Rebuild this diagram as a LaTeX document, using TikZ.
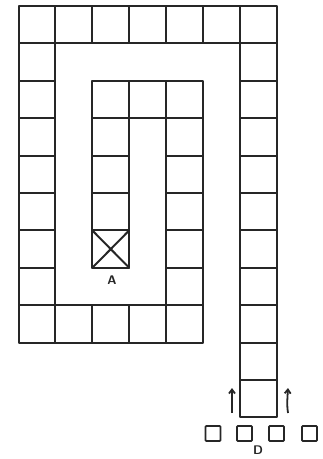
\documentclass[tikz,border=0pt]{standalone}
\usetikzlibrary{arrows.meta}
\begin{document}
\begin{tikzpicture}[x=1pt,y=-1pt,
  cellline/.style={line width=2pt,line cap=round,line join=round,black!85},
  tiny/.style={draw=black!85,line width=1.8pt,minimum size=15pt,inner sep=0pt,rounded corners=0.8pt},
  uparrow/.style={line width=1.8pt,black!85,-{Straight Barb[length=4pt,width=6pt]}},
  lbl/.style={font=\sffamily\bfseries\fontsize{12.5}{12.5}\selectfont,text=black!85}]
\useasboundingbox (0,0) rectangle (323,459);
\def\cw{36.9}\def\ch{37.4}\def\xo{18.5}\def\yo{6}
% cell macro
\newcommand{\cellat}[2]{\draw[cellline] ({\xo+#1*\cw},{\yo+#2*\ch}) rectangle ({\xo+(#1+1)*\cw},{\yo+(#2+1)*\ch});}
\foreach \i in {0,...,6} {\cellat{\i}{0}}
\foreach \j in {1,...,8} {\cellat{0}{\j}}
\foreach \i in {1,...,4} {\cellat{\i}{8}}
\foreach \j in {1,...,10} {\cellat{6}{\j}}
\foreach \i in {2,...,4} {\cellat{\i}{2}}
\foreach \j in {3,...,6} {\cellat{2}{\j}}
\foreach \j in {3,...,7} {\cellat{4}{\j}}
% cross in target cell
\draw[cellline] ({\xo+2*\cw},{\yo+6*\ch}) -- ({\xo+3*\cw},{\yo+7*\ch})
  ({\xo+3*\cw},{\yo+6*\ch}) -- ({\xo+2*\cw},{\yo+7*\ch});
\node[lbl] (A) at (112,280) {A};
% small squares
\node[tiny] (s1) at (213,433.5) {};
\node[tiny] (s2) at (244.5,433.5) {};
\node[tiny] (s3) at (276.5,433.5) {};
\node[tiny] (s4) at (309.5,433.5) {};
\node[lbl] (D) at (258,450) {D};
% arrows
\coordinate (a1s) at (232,413);
\coordinate (a1e) at (232,388);
\coordinate (a2s) at (288,413);
\coordinate (a2e) at (288,388);
\draw[uparrow] (a1s) -- (a1e);
\draw[uparrow] (a2s) .. controls (287,405) .. (a2e);
\end{tikzpicture}
\end{document}
